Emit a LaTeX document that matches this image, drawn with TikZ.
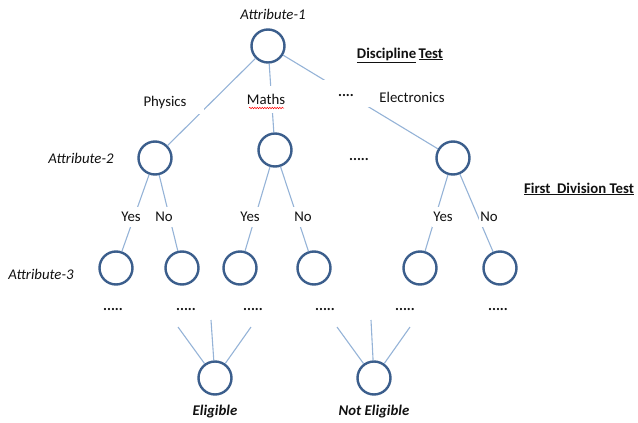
\documentclass[tikz,border=0pt]{standalone}
\usepackage{fontspec}
\setmainfont{Carlito}
\usetikzlibrary{decorations.pathmorphing}
\definecolor{ring}{HTML}{3B5E8C}
\definecolor{edgec}{HTML}{95B3D7}
\definecolor{txt}{HTML}{111111}
\tikzset{
  circ/.style={circle, draw=ring, line width=2.4pt, minimum size=33pt, inner sep=0pt, fill=white},
  edge/.style={draw=edgec, line width=1.1pt},
  lab/.style={font=\fontsize{14.8}{16}\selectfont, text=txt, inner sep=1pt},
  attr/.style={lab, font=\fontsize{14.8}{16}\selectfont\itshape},
  dots/.style={lab, font=\fontsize{14.8}{16}\selectfont\bfseries},
  cut/.style={fill=white, inner sep=0pt, draw=none},
  head/.style={lab, font=\fontsize{14.8}{16}\selectfont\bfseries},
}
\begin{document}
\begin{tikzpicture}[x=1pt,y=-1pt]
\useasboundingbox (0,0) rectangle (638,423);
% circles
\node[circ] (r) at (268,46) {};
\node[circ] (a) at (155,158) {};
\node[circ] (b) at (275,150) {};
\node[circ] (c) at (453,158) {};
\node[circ] (a1) at (116,268) {};
\node[circ] (a2) at (182,268) {};
\node[circ] (b1) at (240,268) {};
\node[circ] (b2) at (314,268) {};
\node[circ] (c1) at (420,268) {};
\node[circ] (c2) at (500,268) {};
\node[circ] (el) at (215,378) {};
\node[circ] (ne) at (374,378) {};
% free ends of the bottom connectors
\coordinate (e1) at (178,327);
\coordinate (e2) at (211,320);
\coordinate (e3) at (251,327);
\coordinate (n1) at (337,327);
\coordinate (n2) at (371,320);
\coordinate (n3) at (410,327);
% connectors
\draw[edge] (r) -- (a);
\draw[edge] (r) -- (b);
\draw[edge] (r) -- (c);
\draw[edge] (a) -- (a1);
\draw[edge] (a) -- (a2);
\draw[edge] (b) -- (b1);
\draw[edge] (b) -- (b2);
\draw[edge] (c) -- (c1);
\draw[edge] (c) -- (c2);
\draw[edge] (e1) -- (el);
\draw[edge] (e2) -- (el);
\draw[edge] (e3) -- (el);
\draw[edge] (n1) -- (ne);
\draw[edge] (n2) -- (ne);
\draw[edge] (n3) -- (ne);
% gaps in lines
\node[cut, minimum width=8pt, minimum height=8pt] (gp) at (200,110) {};
\node[cut, minimum width=48pt, minimum height=27pt] (ge) at (346,93) {};
% labels
\node[attr] (t1) at (273,14) {Attribute-1};
\node[attr] (t2) at (81,158) {Attribute-2};
\node[attr] (t3) at (41,274) {Attribute-3};
\node[head] (dt) at (400,55) {\underline{Discipline}\,\underline{Test}};
\node[head] (fd) at (579,189) {\underline{First\ \ Division Test}};
\node[lab] (ph) at (165,103) {Physics};
\node[lab, fill=white, minimum height=27pt] (ma) at (266,99) {Maths};
\draw[red, line width=0.5pt, decorate, decoration={snake, amplitude=0.7pt, segment length=2.5pt}] (249,108) -- (284,108);
\node[dots] (d1) at (346,96) {....};
\node[lab] (elx) at (412,97) {Electronics};
\node[dots] (d2) at (359,160) {.....};
\node[lab, fill=white, minimum height=20pt] (y1) at (131,217) {Yes};
\node[lab, fill=white, minimum height=20pt] (n1l) at (164,217) {No};
\node[lab, fill=white, minimum height=20pt] (y2) at (250,217) {Yes};
\node[lab, fill=white, minimum height=20pt] (n2l) at (303,217) {No};
\node[lab, fill=white, minimum height=20pt] (y3) at (443,217) {Yes};
\node[lab, fill=white, minimum height=20pt] (n3l) at (489,217) {No};
\node[dots] (p1) at (113,310) {.....};
\node[dots] (p2) at (186,310) {.....};
\node[dots] (p3) at (253,310) {.....};
\node[dots] (p4) at (325,310) {.....};
\node[dots] (p5) at (405,310) {.....};
\node[dots] (p6) at (498,310) {.....};
\node[attr, font=\fontsize{14.8}{16}\selectfont\bfseries\itshape] (elt) at (215,412) {Eligible};
\node[attr, font=\fontsize{14.8}{16}\selectfont\bfseries\itshape] (net) at (374,412) {Not Eligible};
\end{tikzpicture}
\end{document}
